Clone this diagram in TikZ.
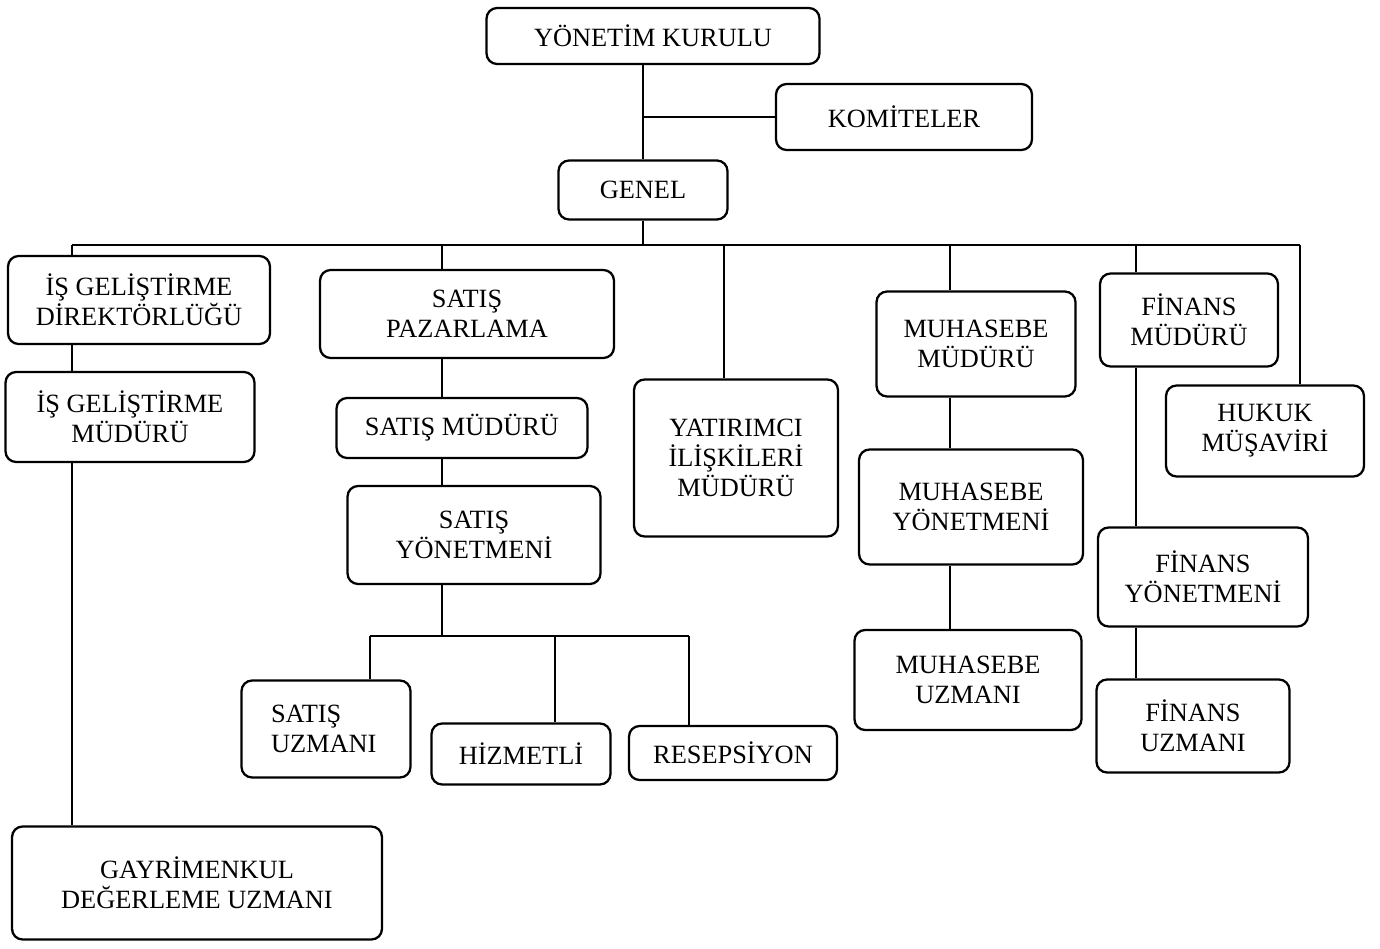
\documentclass[tikz,border=0pt]{standalone}
\usepackage{fontspec}
\setmainfont{Liberation Serif}
\begin{document}
\begin{tikzpicture}[x=0.02cm,y=-0.02cm,
  kutu/.style={draw,line width=1.3pt,rounded corners=6pt,inner sep=0pt,align=center,
    font=\fontsize{15}{17}\selectfont},
  hat/.style={line width=0.8pt}]
\useasboundingbox (0,0) rectangle (1380,949);

% ust kademe
\node[kutu,minimum width=6.66cm,minimum height=1.12cm] (yk) at (653,36) {YÖNETİM KURULU};
\node[kutu,minimum width=5.12cm,minimum height=1.32cm] (kom) at (904,117) {KOMİTELER};
\node[kutu,minimum width=3.38cm,minimum height=1.18cm] (genel) at (643,190) {GENEL};

% birimler
\node[kutu,minimum width=5.24cm,minimum height=1.76cm] (igd) at (139,300) {İŞ GELİŞTİRME\\DİREKTÖRLÜĞÜ};
\node[kutu,minimum width=5.88cm,minimum height=1.76cm] (sp) at (467,314) {SATIŞ\\PAZARLAMA};
\node[kutu,minimum width=4.08cm,minimum height=3.14cm] (yim) at (736,458) {YATIRIMCI\\İLİŞKİLERİ\\MÜDÜRÜ};
\node[kutu,minimum width=3.98cm,minimum height=2.10cm] (mm) at (976,344) {MUHASEBE\\MÜDÜRÜ};
\node[kutu,minimum width=3.56cm,minimum height=1.86cm] (fm) at (1189,320) {FİNANS\\MÜDÜRÜ};
\node[kutu,minimum width=3.96cm,minimum height=1.82cm] (hm) at (1265,431) {HUKUK\\MÜŞAVİRİ};

\node[kutu,minimum width=4.98cm,minimum height=1.80cm] (igm) at (130,417) {İŞ GELİŞTİRME\\MÜDÜRÜ};
\node[kutu,minimum width=7.40cm,minimum height=2.26cm] (gdu) at (197,883) {GAYRİMENKUL\\DEĞERLEME UZMANI};

\node[kutu,minimum width=5.02cm,minimum height=1.20cm] (sm) at (462,428) {SATIŞ MÜDÜRÜ};
\node[kutu,minimum width=5.06cm,minimum height=1.96cm] (sy) at (474,535) {SATIŞ\\YÖNETMENİ};
\node[kutu,minimum width=3.38cm,minimum height=1.94cm,align=left,text width=2.2cm] (su) at (326,729) {SATIŞ\\UZMANI};
\node[kutu,minimum width=3.58cm,minimum height=1.22cm] (hiz) at (521,754) {HİZMETLİ};
\node[kutu,minimum width=4.16cm,minimum height=1.08cm] (res) at (733,753) {RESEPSİYON};

\node[kutu,minimum width=4.48cm,minimum height=2.30cm] (my) at (971,507) {MUHASEBE\\YÖNETMENİ};
\node[kutu,minimum width=4.54cm,minimum height=2.00cm] (mu) at (968,680) {MUHASEBE\\UZMANI};
\node[kutu,minimum width=4.20cm,minimum height=1.98cm] (fy) at (1203,577) {FİNANS\\YÖNETMENİ};
\node[kutu,minimum width=3.86cm,minimum height=1.86cm] (fu) at (1193,726) {FİNANS\\UZMANI};

% baglanti noktalari
\coordinate (bl) at (72,245);
\coordinate (br) at (1300,245);
\coordinate (d2) at (442,245);
\coordinate (d3) at (724,245);
\coordinate (d4) at (950,245);
\coordinate (d5) at (1136,245);
\coordinate (sl) at (370,636);
\coordinate (s2) at (555,636);
\coordinate (sr) at (689,636);

\draw[hat] (genel.north |- yk.south) -- (genel.north);
\draw[hat] (kom.west) -- (kom.west -| genel.north);
\draw[hat] (genel.south) -- (genel.south |- bl);
\draw[hat] (bl) -- (br);

\draw[hat] (bl) -- (bl |- igd.north);
\draw[hat] (d2) -- (d2 |- sp.north);
\draw[hat] (d3) -- (d3 |- yim.north);
\draw[hat] (d4) -- (d4 |- mm.north);
\draw[hat] (d5) -- (d5 |- fm.north);
\draw[hat] (br) -- (br |- hm.north);

\draw[hat] (bl |- igd.south) -- (bl |- igm.north);
\draw[hat] (bl |- igm.south) -- (bl |- gdu.north);

\draw[hat] (d2 |- sp.south) -- (d2 |- sm.north);
\draw[hat] (d2 |- sm.south) -- (d2 |- sy.north);
\draw[hat] (d2 |- sy.south) -- (d2 |- sl);
\draw[hat] (sl) -- (sr);
\draw[hat] (sl) -- (sl |- su.north);
\draw[hat] (s2) -- (s2 |- hiz.north);
\draw[hat] (sr) -- (sr |- res.north);

\draw[hat] (d4 |- mm.south) -- (d4 |- my.north);
\draw[hat] (d4 |- my.south) -- (d4 |- mu.north);

\draw[hat] (d5 |- fm.south) -- (d5 |- fy.north);
\draw[hat] (d5 |- fy.south) -- (d5 |- fu.north);
\end{tikzpicture}
\end{document}
